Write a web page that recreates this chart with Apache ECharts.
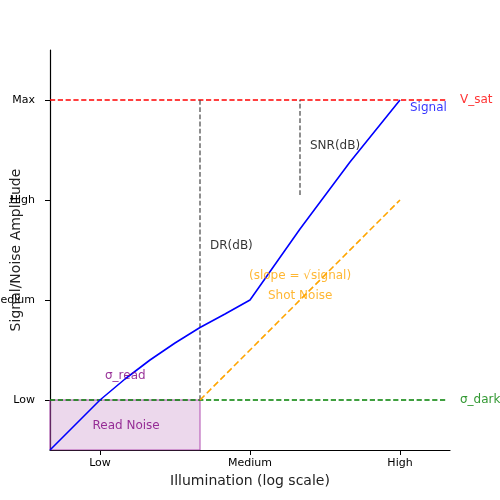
<!DOCTYPE html>
<html><head><meta charset="utf-8">
<script src="https://cdn.jsdelivr.net/npm/echarts@6/dist/echarts.min.js"></script>
<style>html,body{margin:0;padding:0;background:#fff}#c{width:500px;height:500px}</style>
</head><body><div id="c"></div>
<script>
const xTicks = [[1,'Low'],[4,'Medium'],[7,'High']];
const yTicks = [[1,'Low'],[3,'Medium'],[5,'High'],[7,'Max']];
const signal = [[0,0],[1,1],[1.5,1.42],[2,1.8],[2.5,2.14],[3,2.45],[3.5,2.72],[4,3],[5,4.42],[6,5.76],[7,7]];
const shotNoise = [[3,1],[7,5]];
const vSat = [[0,7],[7.95,7]];
const sigmaDark = [[0,1],[7.95,1]];
const readNoiseBox = [[0,0],[3,0],[3,1],[0,1],[0,0]];
const drLine = [[3,1],[3,7]];
const snrLine = [[5,5.1],[5,7]];
const texts = [
  {p:[7.2,6.85], t:'Signal', c:'blue'},
  {p:[8.2,7], t:'V_sat', c:'red'},
  {p:[8.2,1], t:'σ_dark', c:'green'},
  {p:[1.1,1.48], t:'σ_read', c:'purple'},
  {p:[0.85,0.48], t:'Read Noise', c:'purple'},
  {p:[3.2,4.08], t:'DR(dB)', c:'black'},
  {p:[5.2,6.08], t:'SNR(dB)', c:'black'},
  {p:[3.98,3.48], t:'(slope = √signal)', c:'orange'},
  {p:[4.36,3.08], t:'Shot Noise', c:'orange'}
];
const FF = 'DejaVu Sans';
const chart = echarts.init(document.getElementById('c'));
const fmt = (m)=>v=>{const f=m.find(d=>d[0]===v);return f?f[1]:'';};
chart.setOption({
  animation:false,
  textStyle:{fontFamily:FF},
  grid:{left:50,right:50,top:50,bottom:50,outerBoundsMode:'none',containLabel:false},
  xAxis:{type:'value',min:0,max:8,name:'Illumination (log scale)',nameLocation:'middle',nameGap:20,
    nameTextStyle:{fontSize:14,color:'#222',fontFamily:FF},splitLine:{show:false},
    axisLine:{lineStyle:{color:'#000',width:1.2}},
    axisTick:{customValues:xTicks.map(d=>d[0]),lineStyle:{color:'#000'}},
    axisLabel:{customValues:xTicks.map(d=>d[0]),formatter:fmt(xTicks),fontSize:11,color:'#000',fontFamily:FF}},
  yAxis:{type:'value',min:0,max:8,name:'Signal/Noise Amplitude',nameLocation:'middle',nameGap:27,nameMoveOverlap:false,
    nameTextStyle:{fontSize:14,color:'#222',fontFamily:FF},splitLine:{show:false},
    axisLine:{show:true,lineStyle:{color:'#000',width:1.2}},
    axisTick:{show:true,customValues:yTicks.map(d=>d[0]),lineStyle:{color:'#000'}},
    axisLabel:{customValues:yTicks.map(d=>d[0]),formatter:fmt(yTicks),fontSize:11,color:'#000',margin:15,fontFamily:FF}},
  series:[
    {type:'line',data:readNoiseBox,symbol:'none',lineStyle:{color:'#b04cb0',width:1},areaStyle:{color:'rgba(128,0,128,0.22)',origin:0},z:1},
    {type:'line',data:vSat,symbol:'none',lineStyle:{color:'red',type:'dashed',width:1.3}},
    {type:'line',data:sigmaDark,symbol:'none',lineStyle:{color:'green',type:'dashed',width:1.3}},
    {type:'line',data:drLine,symbol:'none',lineStyle:{color:'#444',type:'dashed',width:1.2}},
    {type:'line',data:snrLine,symbol:'none',lineStyle:{color:'#444',type:'dashed',width:1.2}},
    {type:'line',data:shotNoise,symbol:'none',lineStyle:{color:'orange',type:'dashed',width:1.6}},
    {type:'line',data:signal,symbol:'none',lineStyle:{color:'blue',width:1.6},z:5},
    {type:'scatter',data:texts.map(d=>({value:d.p,label:{color:d.c}})),symbolSize:0,silent:true,clip:false,
      label:{show:true,position:'right',distance:0,fontSize:12,fontFamily:FF,formatter:p=>texts[p.dataIndex].t},z:6}
  ]
});
</script></body></html>
